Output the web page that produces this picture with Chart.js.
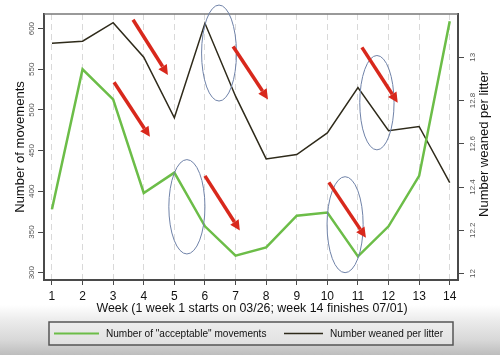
<!DOCTYPE html>
<html>
<head>
<meta charset="utf-8">
<script src="https://cdn.jsdelivr.net/npm/chart.js@4/dist/chart.umd.min.js"></script>
<style>
  html, body { margin: 0; padding: 0; }
  body {
    width: 500px; height: 355px; overflow: hidden;
    background: linear-gradient(to bottom, #ffffff 0px, #ffffff 305px, #ececec 320px, #d8d8d8 340px, #bdbdbd 355px);
  }
  canvas { display: block; }
</style>
</head>
<body>
<canvas id="c" width="500" height="355"></canvas>
<script>
// ---- data ----
const weeks = [1, 2, 3, 4, 5, 6, 7, 8, 9, 10, 11, 12, 13, 14];
const acceptableMovements = [378, 550, 513, 398, 423, 357, 321, 331, 370, 374, 320, 357, 419, 609];
const weanedPerLitter = [13.065, 13.074, 13.16, 13.0, 12.72, 13.157, 12.82, 12.53, 12.55, 12.65, 12.86, 12.66, 12.68, 12.42];
const leftTicks = [300, 350, 400, 450, 500, 550, 600];
const rightTicks = [12, 12.2, 12.4, 12.6, 12.8, 13];
const seriesLabels = ['Number of "acceptable" movements', 'Number weaned per litter'];
const xTitle = 'Week (1 week 1 starts on 03/26; week 14 finishes 07/01)';
const yTitle = 'Number of movements';
const y1Title = 'Number weaned per litter';
// annotations in data units (week, movements)
const arrowStartX = [3.65, 3.03, 6.92, 11.13, 6.0, 10.05];
const arrowStartY = [611, 534, 578, 577, 419, 411];
const arrowEndX = [4.79, 4.2, 8.06, 12.3, 7.14, 11.26];
const arrowEndY = [543, 467, 513, 509, 352, 343];
const ellipseCX = [6.46, 11.62, 5.41, 10.58];
const ellipseCY = [570, 509, 381, 359];
const ellipseRX = [0.57, 0.56, 0.59, 0.59];
const ellipseRY = [59, 58, 58, 59];

const GREEN = '#6cbd48';
const DARK = '#2e2a1a';
const AXIS = '#4a4a4a';
const FONT = '"Liberation Sans", Arial, sans-serif';

const decor = {
  id: 'decor',
  afterDatasetsDraw(chart) {
    const ctx = chart.ctx, xs = chart.scales.x, ys = chart.scales.y;
    const a = chart.chartArea;
    ctx.save();
    // top border
    ctx.strokeStyle = '#777';
    ctx.lineWidth = 1.5;
    ctx.beginPath();
    ctx.moveTo(a.left, a.top); ctx.lineTo(a.right, a.top);
    ctx.stroke();
    // ellipses
    ctx.strokeStyle = '#6f82a8';
    ctx.lineWidth = 1;
    for (let i = 0; i < ellipseCX.length; i++) {
      const cx = xs.getPixelForValue(ellipseCX[i]);
      const cy = ys.getPixelForValue(ellipseCY[i]);
      const rx = Math.abs(xs.getPixelForValue(ellipseCX[i] + ellipseRX[i]) - cx);
      const ry = Math.abs(ys.getPixelForValue(ellipseCY[i] + ellipseRY[i]) - cy);
      ctx.beginPath();
      ctx.ellipse(cx, cy, rx, ry, 0, 0, Math.PI * 2);
      ctx.stroke();
    }
    // arrows
    ctx.strokeStyle = '#d8281c';
    ctx.fillStyle = '#d8281c';
    ctx.lineWidth = 3.5;
    for (let i = 0; i < arrowStartX.length; i++) {
      const x0 = xs.getPixelForValue(arrowStartX[i]);
      const y0 = ys.getPixelForValue(arrowStartY[i]);
      const x1 = xs.getPixelForValue(arrowEndX[i]);
      const y1 = ys.getPixelForValue(arrowEndY[i]);
      const ang = Math.atan2(y1 - y0, x1 - x0);
      const hl = 10, hw = 5;
      const bx = x1 - hl * Math.cos(ang), by = y1 - hl * Math.sin(ang);
      ctx.beginPath();
      ctx.moveTo(x0, y0); ctx.lineTo(bx, by);
      ctx.stroke();
      ctx.beginPath();
      ctx.moveTo(x1, y1);
      ctx.lineTo(bx + hw * Math.sin(ang), by - hw * Math.cos(ang));
      ctx.lineTo(bx - hw * Math.sin(ang), by + hw * Math.cos(ang));
      ctx.closePath();
      ctx.fill();
    }
    ctx.restore();
  },
  afterDraw(chart) {
    const ctx = chart.ctx, a = chart.chartArea;
    ctx.save();
    ctx.fillStyle = '#111';
    ctx.textAlign = 'center';
    ctx.textBaseline = 'middle';
    // axis titles
    ctx.font = '12.4px ' + FONT;
    ctx.fillText(xTitle, (a.left + a.right) / 2 + 1, a.bottom + 29);
    ctx.font = '13px ' + FONT;
    ctx.save();
    ctx.translate(a.left - 24, (a.top + a.bottom) / 2);
    ctx.rotate(-Math.PI / 2);
    ctx.fillText(yTitle, 0, 0);
    ctx.restore();
    ctx.save();
    ctx.translate(a.right + 26, (a.top + a.bottom) / 2 - 3);
    ctx.rotate(-Math.PI / 2);
    ctx.fillText(y1Title, 0, 0);
    ctx.restore();
    // legend box
    const lx = a.left + 5, lw = a.right - a.left - 10, ly = a.bottom + 42, lh = 23;
    ctx.fillStyle = 'rgba(240,240,240,0.5)';
    ctx.fillRect(lx, ly, lw, lh);
    ctx.strokeStyle = '#555';
    ctx.lineWidth = 1.5;
    ctx.strokeRect(lx, ly, lw, lh);
    const my = ly + lh / 2;
    const ds = chart.data.datasets;
    const items = [{x: lx + 5, w: 45}, {x: lx + 235, w: 39}];
    ctx.font = '11px ' + FONT;
    ctx.textAlign = 'left';
    ctx.fillStyle = '#111';
    items.forEach((it, i) => {
      ctx.strokeStyle = ds[i].borderColor;
      ctx.lineWidth = i === 0 ? 2 : 1.5;
      ctx.beginPath();
      ctx.moveTo(it.x, my); ctx.lineTo(it.x + it.w, my);
      ctx.stroke();
      ctx.save();
      ctx.translate(it.x + it.w + 7, my);
      ctx.scale(0.915, 1);
      ctx.fillText(ds[i].label, 0, 0);
      ctx.restore();
    });
    ctx.restore();
  }
};

new Chart(document.getElementById('c'), {
  type: 'line',
  data: {
    datasets: [
      {
        label: seriesLabels[0],
        data: weeks.map((w, i) => ({x: w, y: acceptableMovements[i]})),
        borderColor: GREEN, borderWidth: 2.5, pointRadius: 0, tension: 0, yAxisID: 'y'
      },
      {
        label: seriesLabels[1],
        data: weeks.map((w, i) => ({x: w, y: weanedPerLitter[i]})),
        borderColor: DARK, borderWidth: 1.5, pointRadius: 0, tension: 0, yAxisID: 'y1'
      }
    ]
  },
  options: {
    responsive: false,
    animation: false,
    layout: { padding: { left: 0, right: 0, top: 14, bottom: 45 } },
    plugins: { legend: { display: false }, tooltip: { enabled: false } },
    scales: {
      x: {
        type: 'linear', min: 0.74, max: 14.27,
        afterBuildTicks: s => { s.ticks = weeks.map(v => ({value: v})); },
        afterFit: s => { s.height = 30; },
        ticks: { color: '#111', font: { size: 12, family: FONT }, padding: 4, callback: v => String(v) },
        grid: { color: '#d9d9d9', lineWidth: 1, tickColor: AXIS, tickLength: 5, tickBorderDash: [], tickWidth: 1 },
        border: { color: AXIS, width: 2, dash: [6, 4] }
      },
      y: {
        type: 'linear', position: 'left', min: 291, max: 618,
        afterBuildTicks: s => { s.ticks = leftTicks.map(v => ({value: v})); },
        afterFit: s => { s.width = 44; },
        ticks: { color: '#555', font: { size: 8, family: FONT }, minRotation: 90, maxRotation: 90, crossAlign: 'center', padding: 0, callback: v => String(v) },
        grid: { drawOnChartArea: false, tickColor: AXIS, tickLength: 6 },
        border: { color: AXIS, width: 2 }
      },
      y1: {
        type: 'linear', position: 'right', min: 11.97, max: 13.2,
        afterBuildTicks: s => { s.ticks = rightTicks.map(v => ({value: v})); },
        afterFit: s => { s.width = 42; },
        ticks: { color: '#555', font: { size: 8, family: FONT }, minRotation: 90, maxRotation: 90, crossAlign: 'center', padding: 1, callback: v => String(Math.round(v * 10) / 10) },
        grid: { drawOnChartArea: false, tickColor: AXIS, tickLength: 6 },
        border: { color: AXIS, width: 2 }
      }
    }
  },
  plugins: [decor]
});
</script>
</body>
</html>
